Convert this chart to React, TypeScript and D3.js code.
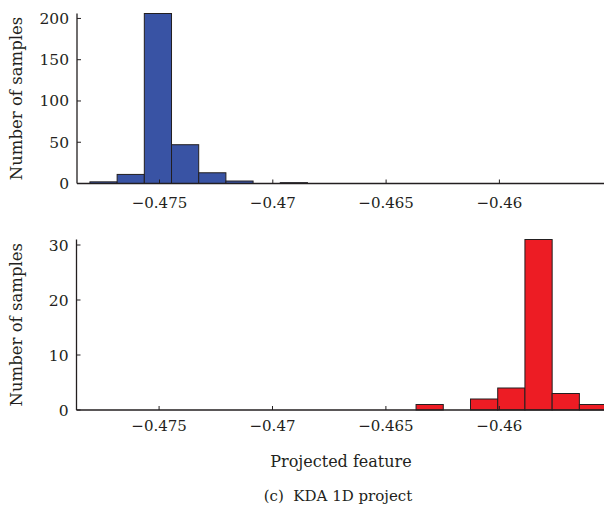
import React from "react";
import * as d3 from "d3";

// Histogram bin lower edges (shared by both panels) and the final upper edge
const binEdges = [
  -0.47807, -0.47687, -0.47567, -0.47447, -0.47327, -0.47207, -0.47087,
  -0.46967, -0.46847, -0.46727, -0.46607, -0.46487, -0.46367, -0.46247,
  -0.46127, -0.46007, -0.45887, -0.45767, -0.45647, -0.45527,
];

// Sample counts per bin
const countsClassA = [2, 11, 206, 47, 13, 3, 0, 1, 0, 0, 0, 0, 0, 0, 0, 0, 0, 0, 0];
const countsClassB = [0, 0, 0, 0, 0, 0, 0, 0, 0, 0, 0, 0, 1, 0, 2, 4, 31, 3, 1];

const xTicks = [-0.475, -0.47, -0.465, -0.46];
const yTicksA = [0, 50, 100, 150, 200];
const yTicksB = [0, 10, 20, 30];

const xDomain: [number, number] = [-0.478641, -0.455384];

const W = 604;
const H = 516;
const FONT = "'DejaVu Serif', 'Liberation Serif', serif";
const INK = "#231f20";

const fmtX = (v: number) => (v < 0 ? "\u2212" : "") + String(Math.abs(v));

type PanelProps = {
  counts: number[];
  fill: string;
  yTicks: number[];
  yMax: number;
  top: number;
  bottom: number;
  left: number;
  tickLabelDy: number;
};

function Panel({ counts, fill, yTicks, yMax, top, bottom, left, tickLabelDy }: PanelProps) {
  const x = d3.scaleLinear().domain(xDomain).range([left, W]);
  const y = d3.scaleLinear().domain([0, yMax]).range([bottom, top]);
  const bins = counts.map((c, i) => ({ c, x0: binEdges[i], x1: binEdges[i + 1] }));
  return (
    <g>
      {bins
        .filter((b) => b.c > 0)
        .map((b, i) => (
          <rect
            key={i}
            x={x(b.x0)}
            y={y(b.c)}
            width={x(b.x1) - x(b.x0)}
            height={y(0) - y(b.c)}
            fill={fill}
            stroke={INK}
            strokeWidth={1}
          />
        ))}
      {/* axes */}
      <line x1={left} x2={W} y1={bottom} y2={bottom} stroke={INK} strokeWidth={1.5} />
      <line x1={left} x2={left} y1={top} y2={bottom} stroke={INK} strokeWidth={1.3} />
      {xTicks.map((t) => (
        <g key={t}>
          <line x1={x(t)} x2={x(t)} y1={bottom} y2={bottom - 4} stroke={INK} strokeWidth={1} />
          <text
            x={x(t)}
            y={bottom + tickLabelDy}
            textAnchor="middle"
            fontFamily={FONT}
            fontSize={15}
            fill={INK}
          >
            {fmtX(t)}
          </text>
        </g>
      ))}
      {yTicks.map((t) => (
        <g key={t}>
          <line x1={left} x2={left + 4} y1={y(t)} y2={y(t)} stroke={INK} strokeWidth={1} />
          <text
            x={left - 8}
            y={y(t) + 5.5}
            textAnchor="end"
            fontFamily={FONT}
            fontSize={15.5}
            fill={INK}
          >
            {t}
          </text>
        </g>
      ))}
      <text
        transform={`translate(22, ${(top + bottom) / 2}) rotate(-90)`}
        textAnchor="middle"
        fontFamily={FONT}
        fontSize={16.5}
        fill={INK}
      >
        Number of samples
      </text>
    </g>
  );
}

export default function App() {
  return (
    <svg
      width={W}
      height={H}
      style={{ position: "absolute", left: 0, top: 0, background: "#fff" }}
    >
      <rect width={W} height={H} fill="#fff" />
      <Panel
        counts={countsClassA}
        fill="#3953a4"
        yTicks={yTicksA}
        yMax={206}
        top={13.5}
        bottom={183.5}
        left={77}
        tickLabelDy={24.5}
      />
      <Panel
        counts={countsClassB}
        fill="#ed1c24"
        yTicks={yTicksB}
        yMax={31}
        top={239.5}
        bottom={410}
        left={76.5}
        tickLabelDy={21}
      />
      <text x={341} y={467} textAnchor="middle" fontFamily={FONT} fontSize={16} fill={INK}>
        Projected feature
      </text>
      <text x={338} y={501} textAnchor="middle" fontFamily={FONT} fontSize={15} fill={INK}>
        {"(c)\u00a0\u00a0KDA 1D project"}
      </text>
    </svg>
  );
}
